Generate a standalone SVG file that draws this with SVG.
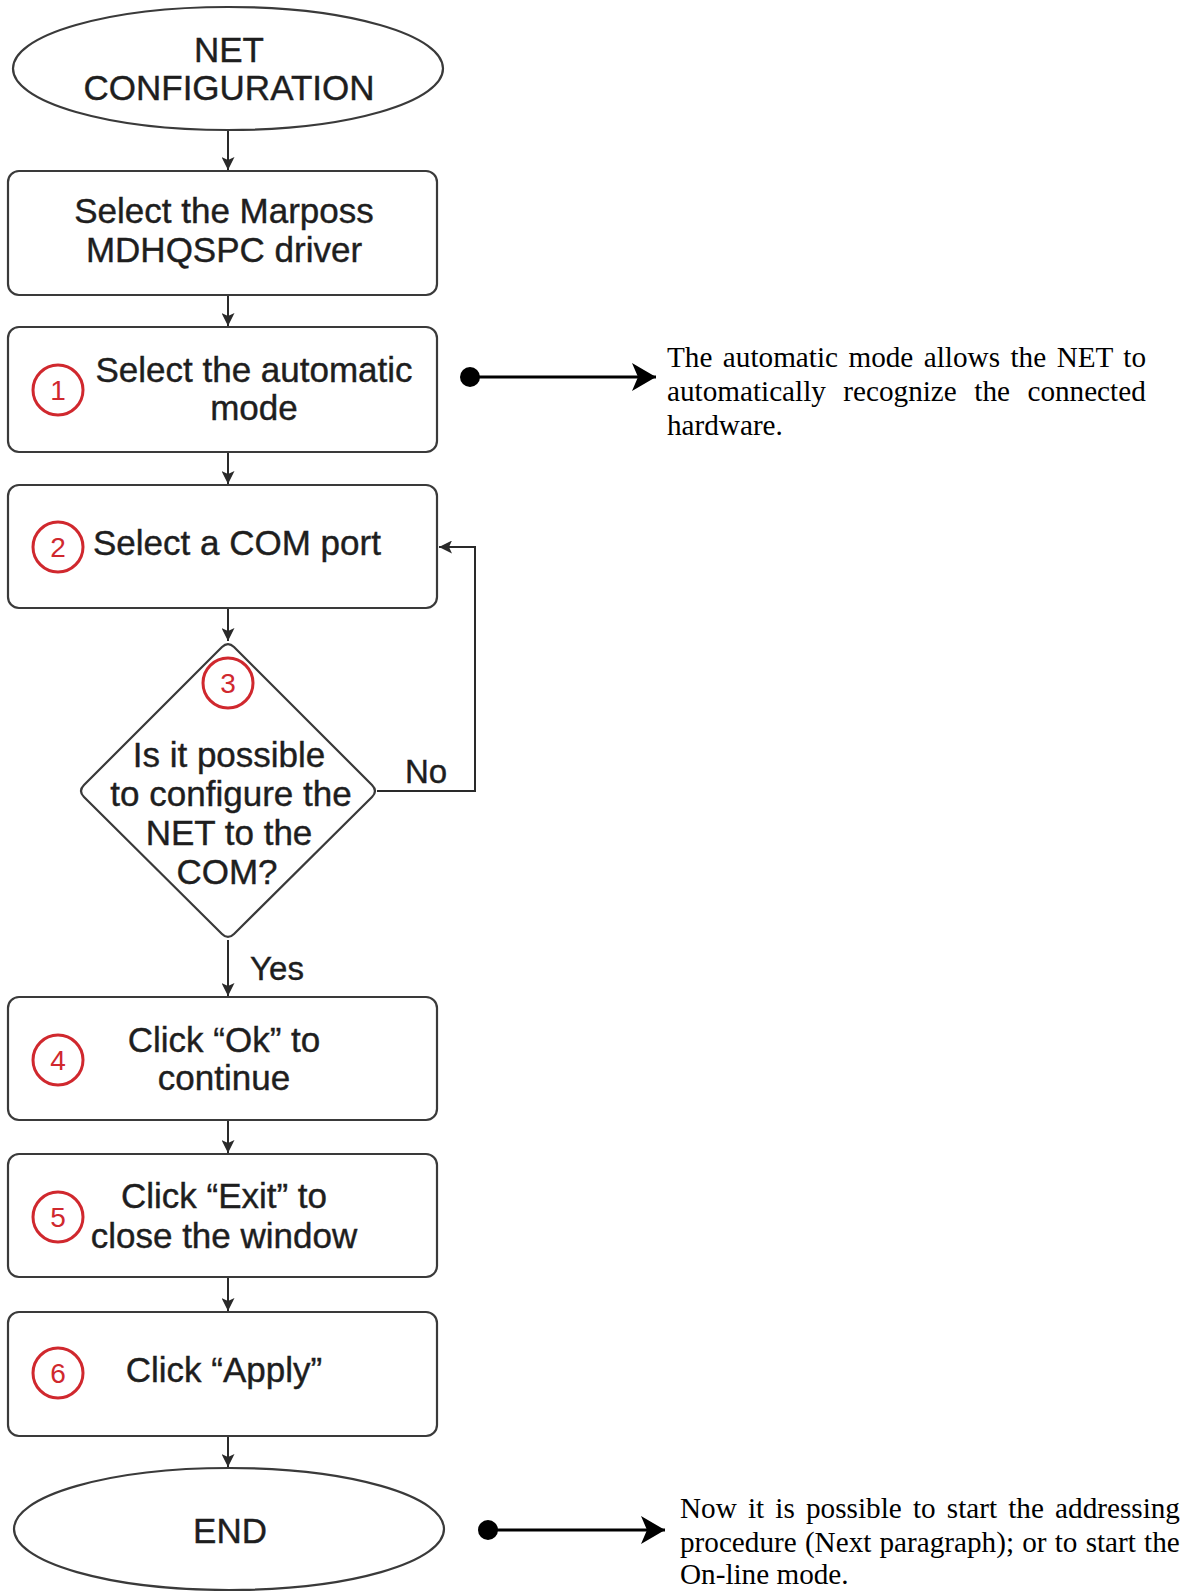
<svg xmlns="http://www.w3.org/2000/svg" width="1193" height="1591" viewBox="0 0 1193 1591">
<defs>
<marker id="ah" markerUnits="userSpaceOnUse" markerWidth="14" markerHeight="13" refX="13" refY="6.5" orient="auto">
<path d="M0,0 L13,6.5 L0,13 L3,6.5 Z" fill="#2a2a2a"/>
</marker>
<marker id="big" markerUnits="userSpaceOnUse" markerWidth="26" markerHeight="30" refX="24" refY="15" orient="auto">
<path d="M0,1 L24,15 L0,29 L6,15 Z" fill="#000"/>
</marker>
<style>
.box{fill:#fff;stroke:#3a3a3a;stroke-width:2.2}
.t{font-family:"Liberation Sans",Arial,sans-serif;font-size:35px;fill:#1e1e1e;stroke:#1e1e1e;stroke-width:0.4;text-anchor:middle}
.num{fill:none;stroke:#d0282e;stroke-width:3}
.n{font-family:"Liberation Sans",Arial,sans-serif;font-size:28px;fill:#d0282e;text-anchor:middle}
.c{fill:none;stroke:#2a2a2a;stroke-width:2;marker-end:url(#ah)}
.note{font-family:"Liberation Serif","Times New Roman",serif;font-size:29.2px;fill:#000}
.ann{stroke:#000;stroke-width:3;fill:none;marker-end:url(#big)}
</style>
</defs>
<rect width="1193" height="1591" fill="#fff"/>

<g id="connectors">
<line class="c" x1="228" y1="130" x2="228" y2="170"/>
<line class="c" x1="228" y1="295" x2="228" y2="326"/>
<line class="c" x1="228" y1="452" x2="228" y2="484"/>
<line class="c" x1="228" y1="608" x2="228" y2="641"/>
<line class="c" x1="228" y1="940" x2="228" y2="996"/>
<line class="c" x1="228" y1="1120" x2="228" y2="1153"/>
<line class="c" x1="228" y1="1277" x2="228" y2="1311"/>
<line class="c" x1="228" y1="1436" x2="228" y2="1467"/>
<polyline class="c" points="377,791 475,791 475,547 439,547"/>
<text class="t" x="426" y="783" style="font-size:33px">No</text>
<text class="t" x="277" y="980" style="font-size:33px">Yes</text>
<circle cx="470" cy="377" r="10" fill="#000"/>
<line class="ann" x1="470" y1="377" x2="656" y2="377"/>
<circle cx="488" cy="1530" r="10" fill="#000"/>
<line class="ann" x1="488" y1="1530" x2="665" y2="1530"/>
</g>

<g id="start">
<ellipse class="box" cx="228" cy="68.5" rx="215" ry="61.5"/>
<text class="t" x="229" y="62">NET</text>
<text class="t" x="229" y="100">CONFIGURATION</text>
</g>

<g id="driver">
<rect class="box" x="8" y="171" width="429" height="124" rx="11"/>
<text class="t" x="224" y="223">Select the Marposs</text>
<text class="t" x="224" y="262">MDHQSPC driver</text>
</g>

<g id="step1">
<rect class="box" x="8" y="327" width="429" height="125" rx="11"/>
<circle class="num" cx="58" cy="390" r="25"/>
<text class="n" x="58" y="400">1</text>
<text class="t" x="254" y="382">Select the automatic</text>
<text class="t" x="254" y="420">mode</text>
</g>

<g id="step2">
<rect class="box" x="8" y="485" width="429" height="123" rx="11"/>
<circle class="num" cx="58" cy="547" r="25"/>
<text class="n" x="58" y="557">2</text>
<text class="t" x="93" y="555" style="text-anchor:start">Select a COM port</text>
</g>

<g id="step3">
<path class="box" d="M222,647 Q228,641 234,647 L372,785 Q378,791 372,797 L234,934 Q228,940 222,934 L84,797 Q78,791 84,785 Z"/>
<circle class="num" cx="228" cy="683" r="25"/>
<text class="n" x="228" y="693">3</text>
<text class="t" x="229" y="767">Is it possible</text>
<text class="t" x="231" y="806">to configure the</text>
<text class="t" x="229" y="845">NET to the</text>
<text class="t" x="227" y="884">COM?</text>
</g>

<g id="step4">
<rect class="box" x="8" y="997" width="429" height="123" rx="11"/>
<circle class="num" cx="58" cy="1060" r="25"/>
<text class="n" x="58" y="1070">4</text>
<text class="t" x="224" y="1052">Click “Ok” to</text>
<text class="t" x="224" y="1090">continue</text>
</g>

<g id="step5">
<rect class="box" x="8" y="1154" width="429" height="123" rx="11"/>
<circle class="num" cx="58" cy="1217" r="25"/>
<text class="n" x="58" y="1227">5</text>
<text class="t" x="224" y="1208">Click “Exit” to</text>
<text class="t" x="224" y="1248">close the window</text>
</g>

<g id="step6">
<rect class="box" x="8" y="1312" width="429" height="124" rx="11"/>
<circle class="num" cx="58" cy="1373" r="25"/>
<text class="n" x="58" y="1383">6</text>
<text class="t" x="224" y="1382">Click “Apply”</text>
</g>

<g id="end">
<ellipse class="box" cx="229" cy="1529" rx="215" ry="61"/>
<text class="t" x="230" y="1543">END</text>
</g>

<g id="note1">
<text class="note" x="667" y="367" word-spacing="3.2">The automatic mode allows the NET to</text>
<text class="note" x="667" y="401" word-spacing="10.2">automatically recognize the connected</text>
<text class="note" x="667" y="435">hardware.</text>
</g>

<g id="note2">
<text class="note" x="680" y="1518" word-spacing="3.9">Now it is possible to start the addressing</text>
<text class="note" x="680" y="1552" word-spacing="0.9">procedure (Next paragraph); or to start the</text>
<text class="note" x="680" y="1584">On-line mode.</text>
</g>
</svg>
